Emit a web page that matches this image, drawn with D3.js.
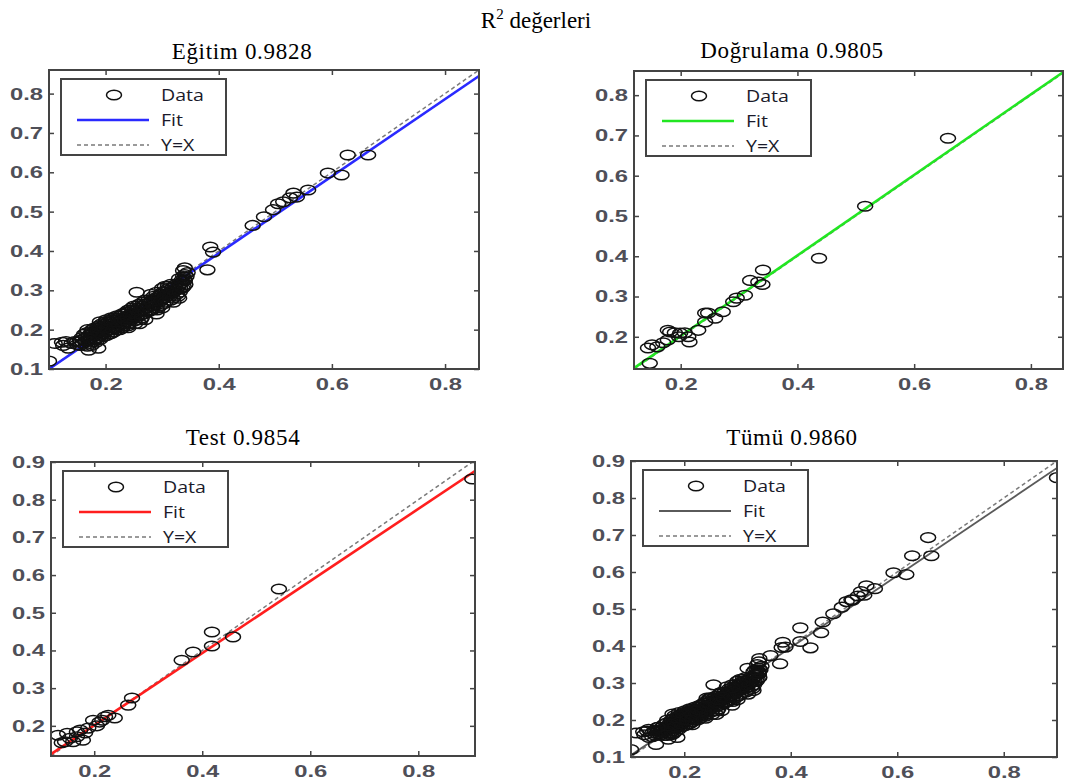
<!DOCTYPE html>
<html>
<meta charset="UTF-8">
<head>
<script src="https://cdn.jsdelivr.net/npm/d3@7"></script>
<style>
  body { margin: 0; background: #fff; }
  .lbl text { font-family: "Liberation Sans", Arial, sans-serif; font-weight: bold; font-size: 17px; fill: #4f4f58; }
  .tk line { stroke: #444; stroke-width: 1.5; }
</style>
</head>
<body>
<div id="chart"></div>
<script>
// panel names and R values
var panelNames = ["Eğitim", "Doğrulama", "Test", "Tümü"];
var r2Values = [0.9828, 0.9805, 0.9854, 0.9860];

// fitted line y = slope * x + intercept
var fitSlope = [0.980, 1.000, 0.957, 0.970];
var fitIntercept = [0.002, 0.002, 0.010, 0.008];
var fitColors = ["#2a2aff", "#22e622", "#ff1e1e", "#5a5a5a"];

// axis limits
var xDomains = [[0.10, 0.86], [0.12, 0.855], [0.12, 0.905], [0.10, 0.90]];
var yDomains = [[0.10, 0.86], [0.12, 0.86], [0.12, 0.90], [0.10, 0.90]];
var xTickValues = [0.2, 0.4, 0.6, 0.8];
var yTickValues = [0.1, 0.2, 0.3, 0.4, 0.5, 0.6, 0.7, 0.8, 0.9];

// target, output pairs
var egitimData = [
  [0.100, 0.120], [0.110, 0.165], [0.123, 0.168], [0.134, 0.153], [0.170, 0.148], [0.187, 0.153],
  [0.255, 0.295], [0.380, 0.352], [0.385, 0.410], [0.390, 0.397], [0.340, 0.357], [0.337, 0.350],
  [0.340, 0.326], [0.460, 0.465], [0.480, 0.487], [0.496, 0.505], [0.505, 0.520], [0.514, 0.525],
  [0.526, 0.535], [0.532, 0.547], [0.538, 0.537], [0.558, 0.555], [0.593, 0.598], [0.617, 0.593],
  [0.628, 0.644], [0.664, 0.644],
  [0.150, 0.170], [0.155, 0.160], [0.160, 0.175], [0.160, 0.165], [0.165, 0.180], [0.165, 0.170],
  [0.168, 0.158], [0.170, 0.185], [0.170, 0.175], [0.172, 0.165], [0.175, 0.190], [0.175, 0.180],
  [0.178, 0.170], [0.180, 0.195], [0.180, 0.185], [0.182, 0.175], [0.185, 0.200], [0.185, 0.190],
  [0.187, 0.180], [0.190, 0.205], [0.190, 0.195], [0.192, 0.185], [0.195, 0.210], [0.195, 0.200],
  [0.197, 0.190], [0.200, 0.215], [0.200, 0.205], [0.200, 0.195], [0.202, 0.185], [0.205, 0.220],
  [0.205, 0.210], [0.207, 0.200], [0.210, 0.225], [0.210, 0.215], [0.212, 0.205], [0.215, 0.195],
  [0.215, 0.230], [0.218, 0.220], [0.220, 0.210], [0.220, 0.200], [0.223, 0.225], [0.225, 0.215],
  [0.227, 0.235], [0.230, 0.205], [0.230, 0.225], [0.232, 0.215], [0.235, 0.240], [0.235, 0.230],
  [0.238, 0.220], [0.240, 0.210], [0.240, 0.245], [0.243, 0.235], [0.245, 0.225], [0.248, 0.250],
  [0.250, 0.240], [0.250, 0.230], [0.252, 0.215], [0.255, 0.245], [0.258, 0.255], [0.260, 0.235],
  [0.262, 0.225], [0.265, 0.260], [0.265, 0.250], [0.268, 0.240], [0.270, 0.265], [0.272, 0.255],
  [0.275, 0.245], [0.278, 0.270], [0.280, 0.260], [0.282, 0.250], [0.285, 0.275], [0.288, 0.265],
  [0.290, 0.255], [0.292, 0.280], [0.295, 0.270], [0.298, 0.290], [0.300, 0.280], [0.302, 0.265],
  [0.305, 0.295], [0.308, 0.285], [0.310, 0.300], [0.312, 0.290], [0.315, 0.275], [0.318, 0.305],
  [0.320, 0.295], [0.322, 0.310], [0.325, 0.300], [0.328, 0.285], [0.330, 0.315], [0.332, 0.305],
  [0.335, 0.320], [0.337, 0.335], [0.338, 0.310], [0.340, 0.340], [0.340, 0.325], [0.300, 0.305],
  [0.290, 0.295], [0.270, 0.275], [0.260, 0.265], [0.240, 0.250], [0.220, 0.235], [0.200, 0.220],
  [0.185, 0.205], [0.175, 0.195], [0.250, 0.260], [0.280, 0.290], [0.310, 0.310], [0.260, 0.215],
  [0.270, 0.225], [0.290, 0.240], [0.300, 0.255], [0.320, 0.270], [0.330, 0.280], [0.240, 0.205],
  [0.210, 0.190], [0.190, 0.175], [0.175, 0.160], [0.225, 0.200], [0.330, 0.330], [0.315, 0.315],
  [0.345, 0.345], [0.305, 0.310], [0.285, 0.285], [0.300, 0.290], [0.210, 0.230], [0.190, 0.220],
  [0.125, 0.160], [0.130, 0.170], [0.140, 0.165], [0.145, 0.170], [0.150, 0.162], [0.155, 0.172],
  [0.158, 0.180], [0.162, 0.188], [0.166, 0.192], [0.168, 0.200], [0.172, 0.178], [0.176, 0.200],
  [0.178, 0.185], [0.181, 0.205], [0.183, 0.168], [0.186, 0.198], [0.188, 0.210], [0.191, 0.190],
  [0.193, 0.215], [0.196, 0.182], [0.198, 0.205], [0.201, 0.225], [0.203, 0.198], [0.206, 0.215],
  [0.208, 0.190], [0.211, 0.220], [0.213, 0.200], [0.216, 0.225], [0.219, 0.205], [0.221, 0.230],
  [0.224, 0.210], [0.226, 0.220], [0.229, 0.240], [0.231, 0.210], [0.234, 0.225], [0.236, 0.245],
  [0.239, 0.230], [0.241, 0.215], [0.244, 0.240], [0.246, 0.255], [0.249, 0.235], [0.251, 0.222],
  [0.254, 0.250], [0.256, 0.260], [0.259, 0.240], [0.261, 0.250], [0.264, 0.230], [0.266, 0.270],
  [0.269, 0.255], [0.271, 0.245], [0.274, 0.260], [0.276, 0.275], [0.279, 0.250], [0.281, 0.270],
  [0.284, 0.260], [0.286, 0.280], [0.289, 0.270], [0.291, 0.250], [0.294, 0.285], [0.296, 0.260],
  [0.299, 0.275], [0.301, 0.295], [0.304, 0.280], [0.306, 0.270], [0.309, 0.290], [0.311, 0.305],
  [0.314, 0.285], [0.316, 0.295], [0.319, 0.280], [0.321, 0.300], [0.324, 0.315], [0.326, 0.290],
  [0.329, 0.310], [0.331, 0.295], [0.334, 0.325], [0.336, 0.305], [0.339, 0.330], [0.341, 0.315],
  [0.343, 0.335]
];

var dogrulamaData = [
  [0.658, 0.693], [0.516, 0.524], [0.437, 0.395], [0.341, 0.366], [0.340, 0.330], [0.333, 0.336],
  [0.319, 0.340], [0.310, 0.303], [0.296, 0.296], [0.290, 0.287], [0.272, 0.262], [0.259, 0.246],
  [0.247, 0.259], [0.242, 0.237], [0.242, 0.259], [0.230, 0.216], [0.213, 0.200], [0.215, 0.187],
  [0.199, 0.209], [0.197, 0.200], [0.182, 0.212], [0.178, 0.192], [0.170, 0.185], [0.160, 0.175],
  [0.151, 0.180], [0.144, 0.172], [0.147, 0.134], [0.178, 0.216], [0.207, 0.210], [0.190, 0.210]
];

var testData = [
  [0.900, 0.855], [0.542, 0.563], [0.418, 0.449], [0.418, 0.412], [0.457, 0.436], [0.383, 0.396],
  [0.362, 0.374], [0.270, 0.274], [0.263, 0.255], [0.238, 0.221], [0.220, 0.224], [0.210, 0.210],
  [0.198, 0.215], [0.189, 0.194], [0.174, 0.189], [0.183, 0.181], [0.168, 0.171], [0.155, 0.167],
  [0.133, 0.175], [0.146, 0.158], [0.161, 0.158], [0.179, 0.162], [0.168, 0.184], [0.205, 0.200],
  [0.226, 0.228], [0.215, 0.215], [0.150, 0.180], [0.140, 0.155]
];

var tumuData = egitimData.concat(dogrulamaData, testData);
var panelData = [egitimData, dogrulamaData, testData, tumuData];

// layout
var width = 1089, height = 782;
var boxes = [
  { left: 49, top: 70, right: 479, bottom: 369 },
  { left: 634, top: 71, right: 1063, bottom: 369 },
  { left: 51, top: 462, right: 475, bottom: 756 },
  { left: 631, top: 461, right: 1057, bottom: 757 }
];
var titlePos = [[242, 59], [792, 58], [243, 445], [792, 445]];

var svg = d3.select("#chart").append("svg")
  .attr("width", width)
  .attr("height", height);

// main title
var mainTitle = svg.append("text")
  .attr("x", 536)
  .attr("y", 28)
  .attr("text-anchor", "middle")
  .attr("font-family", "'Liberation Serif', 'Times New Roman', serif")
  .attr("font-weight", "normal")
  .attr("font-size", 23)
  .attr("fill", "#000");
mainTitle.append("tspan").text("R");
mainTitle.append("tspan").attr("dy", -9).attr("font-size", 15).text("2");
mainTitle.append("tspan").attr("dy", 9).text(" değerleri");

var fmt = d3.format(".1f");

panelData.forEach(function (data, i) {
  var b = boxes[i];
  var x = d3.scaleLinear().domain(xDomains[i]).range([b.left, b.right]);
  var y = d3.scaleLinear().domain(yDomains[i]).range([b.bottom, b.top]);
  var yTicks = yTickValues.filter(function (v) {
    return v >= yDomains[i][0] - 1e-9 && v <= yDomains[i][1] + 1e-9;
  });

  var panel = svg.append("g").attr("class", "panel");

  // title
  panel.append("text")
    .attr("x", titlePos[i][0])
    .attr("y", titlePos[i][1])
    .attr("text-anchor", "middle")
    .attr("font-family", "'Liberation Serif', 'Times New Roman', serif")
    .attr("font-weight", "normal")
    .attr("font-size", 23)
    .attr("letter-spacing", 0.7)
    .attr("fill", "#000")
    .text(panelNames[i] + " " + r2Values[i].toFixed(4));

  svg.append("clipPath").attr("id", "clip" + i)
    .append("rect")
    .attr("x", b.left).attr("y", b.top)
    .attr("width", b.right - b.left).attr("height", b.bottom - b.top);

  var plot = panel.append("g").attr("clip-path", "url(#clip" + i + ")");

  var line = d3.line().x(function (d) { return x(d[0]); }).y(function (d) { return y(d[1]); });
  var lo = Math.min(xDomains[i][0], yDomains[i][0]);
  var hi = Math.max(xDomains[i][1], yDomains[i][1]);

  // Y=X
  plot.append("path")
    .attr("d", line([[lo, lo], [hi, hi]]))
    .attr("stroke", "#7a7a7a")
    .attr("stroke-width", 1.5)
    .attr("stroke-dasharray", "4,3")
    .attr("fill", "none");

  // fit
  var fx = xDomains[i];
  plot.append("path")
    .attr("d", line(fx.map(function (v) { return [v, fitSlope[i] * v + fitIntercept[i]]; })))
    .attr("stroke", fitColors[i])
    .attr("stroke-width", i == 3 ? 1.8 : 2.6)
    .attr("fill", "none");

  // data
  plot.selectAll(".pt")
    .data(data)
    .enter()
    .append("ellipse")
    .attr("class", "pt")
    .attr("cx", function (d) { return x(d[0]); })
    .attr("cy", function (d) { return y(d[1]); })
    .attr("rx", 7.5)
    .attr("ry", 4.8)
    .attr("fill", "none")
    .attr("stroke", "#111")
    .attr("stroke-width", 1.5);

  // legend
  var lx = b.left + 12, ly = b.top + 9;
  var leg = panel.append("g").attr("transform", "translate(" + lx + "," + ly + ")");
  leg.append("rect")
    .attr("width", 165).attr("height", 76)
    .attr("fill", "#fff")
    .attr("stroke", "#444")
    .attr("stroke-width", 2);
  leg.append("ellipse")
    .attr("cx", 53).attr("cy", 16)
    .attr("rx", 7.5).attr("ry", 4.8)
    .attr("fill", "none").attr("stroke", "#111").attr("stroke-width", 1.5);
  leg.append("line")
    .attr("x1", 16).attr("x2", 88).attr("y1", 41).attr("y2", 41)
    .attr("stroke", fitColors[i]).attr("stroke-width", i == 3 ? 1.8 : 2.6);
  leg.append("line")
    .attr("x1", 16).attr("x2", 88).attr("y1", 66).attr("y2", 66)
    .attr("stroke", "#7a7a7a").attr("stroke-width", 1.5).attr("stroke-dasharray", "4,3");
  ["Data", "Fit", "Y=X"].forEach(function (t, k) {
    leg.append("text")
      .attr("transform", "translate(100," + (16 + 25 * k) + ") scale(1.15,1)")
      .attr("dy", "0.36em")
      .attr("font-family", "'Open Sans', 'Noto Sans', sans-serif")
      .attr("font-size", 17)
      .attr("fill", "#1a1a2a")
      .text(t);
  });

  // frame
  panel.append("rect")
    .attr("x", b.left).attr("y", b.top)
    .attr("width", b.right - b.left).attr("height", b.bottom - b.top)
    .attr("fill", "none")
    .attr("stroke", "#444")
    .attr("stroke-width", 2);

  // inward ticks on all four sides
  var tk = [
    [d3.axisBottom(x).tickValues(xTickValues), "translate(0," + b.bottom + ")"],
    [d3.axisTop(x).tickValues(xTickValues), "translate(0," + b.top + ")"],
    [d3.axisLeft(y).tickValues(yTicks), "translate(" + b.left + ",0)"],
    [d3.axisRight(y).tickValues(yTicks), "translate(" + b.right + ",0)"]
  ];
  tk.forEach(function (a) {
    panel.append("g").attr("class", "tk")
      .attr("transform", a[1])
      .call(a[0].tickSize(-5).tickFormat(""))
      .call(function (s) { s.select(".domain").remove(); });
  });

  // tick labels
  panel.append("g").attr("class", "lbl")
    .attr("transform", "translate(0," + b.bottom + ")")
    .call(d3.axisBottom(x).tickValues(xTickValues).tickSize(0).tickPadding(9).tickFormat(fmt))
    .call(function (s) { s.select(".domain").remove(); })
    .selectAll("text").attr("transform", "scale(1.4,1)");

  panel.append("g").attr("class", "lbl")
    .attr("transform", "translate(" + b.left + ",0)")
    .call(d3.axisLeft(y).tickValues(yTicks).tickSize(0).tickPadding(4.3).tickFormat(fmt))
    .call(function (s) { s.select(".domain").remove(); })
    .selectAll("text").attr("transform", "scale(1.4,1)");
});
</script>
</body>
</html>
